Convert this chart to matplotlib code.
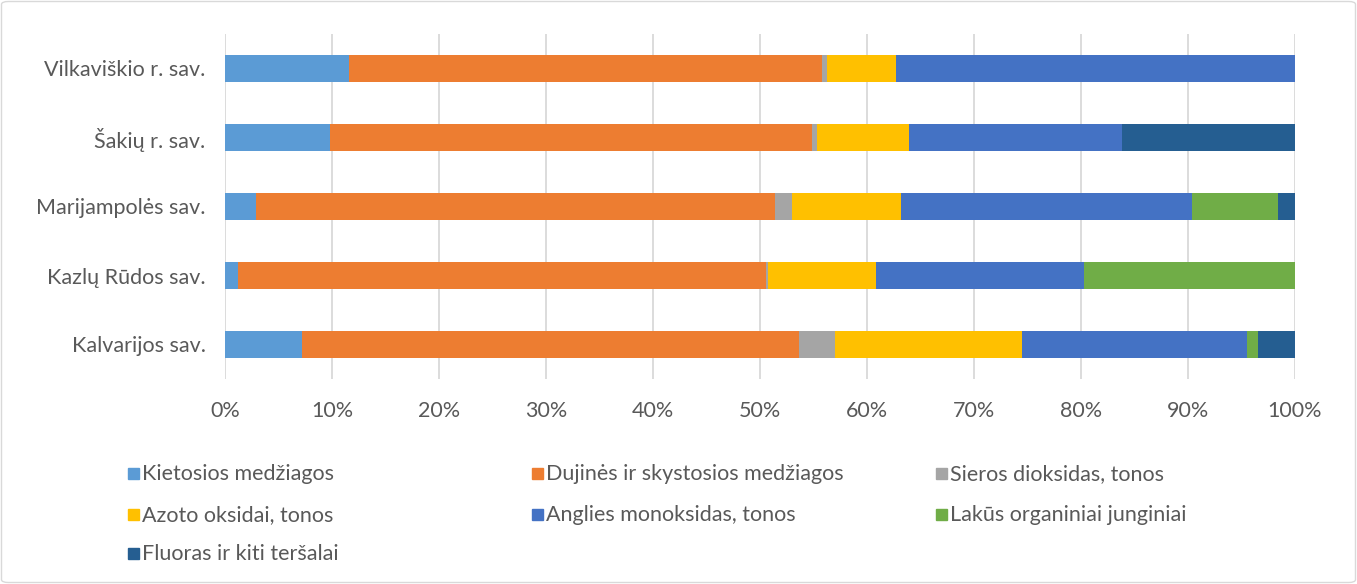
import numpy as np
import matplotlib
matplotlib.use('Agg')
import matplotlib.pyplot as plt
from matplotlib.patches import Rectangle, FancyBboxPatch

# savivaldybės (iš apačios į viršų)
municipalities = ['Kalvarijos sav.', 'Kazlų Rūdos sav.', 'Marijampolės sav.',
                  'Šakių r. sav.', 'Vilkaviškio r. sav.']

pollutants = ['Kietosios medžiagos', 'Dujinės ir skystosios medžiagos',
              'Sieros dioksidas, tonos', 'Azoto oksidai, tonos',
              'Anglies monoksidas, tonos', 'Lakūs organiniai junginiai',
              'Fluoras ir kiti teršalai']

# dalys procentais, nuskaitytos nuo grafiko
kietosios = [7.2, 1.2, 2.9, 9.85, 11.6]
dujines = [46.4, 49.4, 48.5, 45.05, 44.2]
sieros = [3.4, 0.15, 1.6, 0.4, 0.5]
azoto = [17.5, 10.1, 10.2, 8.6, 6.4]
anglies = [21.0, 19.4, 27.2, 19.9, 37.3]
lakus = [1.0, 19.75, 8.0, 0.0, 0.0]
fluoras = [3.5, 0.0, 1.6, 16.2, 0.0]

series = [kietosios, dujines, sieros, azoto, anglies, lakus, fluoras]
colors = ['#5B9BD5', '#ED7D31', '#A5A5A5', '#FFC000', '#4472C4', '#70AD47', '#255E91']

plt.rcParams['font.family'] = ['Lato', 'DejaVu Sans']
text_color = '#595959'
fs = 15.5

fig = plt.figure(figsize=(13.57, 5.84), dpi=100)
W, H = 1357, 584
ax = fig.add_axes([225 / W, 1 - 379 / H, (1295 - 225) / W, (379 - 34) / H])

data = np.array(series, dtype=float)
data = data / data.sum(axis=0) * 100
y = np.arange(len(municipalities))
left = np.zeros(len(municipalities))
for vals, col, name in zip(data, colors, pollutants):
    ax.barh(y, vals, left=left, height=0.4, color=col, label=name, zorder=3)
    left += vals

ax.set_xlim(0, 100)
ax.set_ylim(-0.5, len(municipalities) - 0.5)
ax.set_xticks(np.arange(0, 101, 10))
ax.set_xticklabels([f'{v}%' for v in range(0, 101, 10)])
ax.set_yticks(y)
ax.set_yticklabels(municipalities)
ax.grid(axis='x', color='#D9D9D9', linewidth=1.3, zorder=0)
for s in ax.spines.values():
    s.set_visible(False)
ax.tick_params(axis='both', length=0, labelsize=fs, colors=text_color)
ax.tick_params(axis='x', pad=16)
ax.tick_params(axis='y', pad=14)

# legenda
legend_cols = [128, 532, 936]
legend_rows = [474, 515, 554]
for i, (name, col) in enumerate(zip(pollutants, colors)):
    r, c = divmod(i, 3)
    x0, y0 = legend_cols[c], legend_rows[r]
    fig.patches.append(Rectangle((x0 / W, 1 - (y0 + 5) / H), 11 / W, 11 / H,
                                 transform=fig.transFigure, color=col))
    fig.text((x0 + 14) / W, 1 - y0 / H, name, fontsize=fs, color=text_color,
             va='center', ha='left')

# rėmelis
fig.patches.append(FancyBboxPatch((1.5 / W, 1.5 / H), 1 - 3 / W, 1 - 3 / H,
                                  boxstyle='round,pad=0,rounding_size=0.005',
                                  transform=fig.transFigure, fill=False,
                                  edgecolor='#D9D9D9', linewidth=1))

fig.savefig('out.png', dpi=100)
